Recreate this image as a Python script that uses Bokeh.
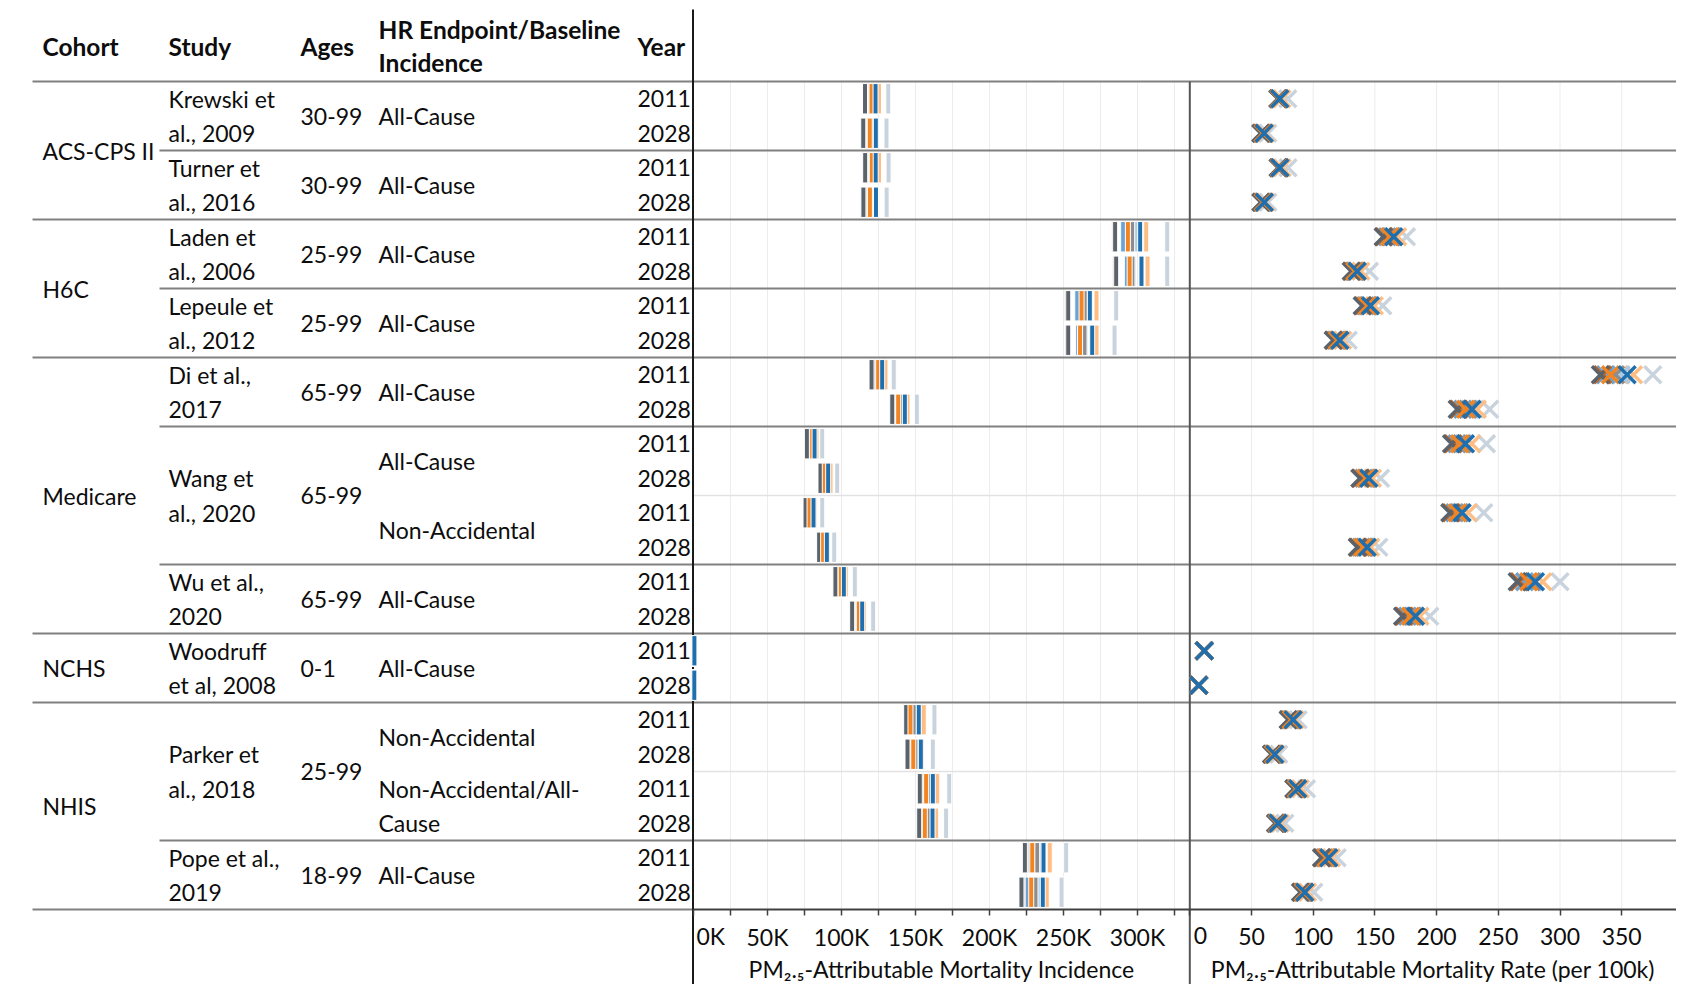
from itertools import accumulate
from bokeh.plotting import figure
from bokeh.models import Range1d, FixedTicker, ColumnDataSource, LinearAxis
from bokeh.core.properties import value
from bokeh.embed import file_html
from bokeh.resources import INLINE

# ---------------- data ----------------
headers = ["Cohort", "Study", "Ages", "HR Endpoint/Baseline", "Incidence", "Year"]
cohorts = ["ACS-CPS II", "H6C", "Medicare", "NCHS", "NHIS"]
cohort_blocks = [2, 2, 4, 1, 3]          # two-year blocks per cohort
studies = [["Krewski et", "al., 2009"], ["Turner et", "al., 2016"], ["Laden et", "al., 2006"],
           ["Lepeule et", "al., 2012"], ["Di et al.,", "2017"], ["Wang et", "al., 2020"],
           ["Wu et al.,", "2020"], ["Woodruff", "et al, 2008"], ["Parker et", "al., 2018"],
           ["Pope et al.,", "2019"]]
study_blocks = [1, 1, 1, 1, 1, 2, 1, 1, 2, 1]
ages = ["30-99", "30-99", "25-99", "25-99", "65-99", "65-99", "65-99", "0-1", "25-99", "18-99"]
endpoints = [["All-Cause"], ["All-Cause"], ["All-Cause"], ["All-Cause"], ["All-Cause"],
             ["All-Cause"], ["Non-Accidental"], ["All-Cause"], ["All-Cause"],
             ["Non-Accidental"], ["Non-Accidental/All-", "Cause"], ["All-Cause"]]
years = ["2011", "2028"]

inc_ticks = [0, 50, 100, 150, 200, 250, 300]            # thousands
inc_minor = [25, 75, 125, 175, 225, 275, 325]
rate_ticks = [0, 50, 100, 150, 200, 250, 300, 350]
inc_title = "PM\u2082.\u2085-Attributable Mortality Incidence"
rate_title = "PM\u2082.\u2085-Attributable Mortality Rate (per 100k)"

series_colors = ["#5a626b", "#c0621c", "#6aa3d5", "#f28522", "#8d8d8d",
                 "#a9cbe6", "#1f6fae", "#fdbd83", "#c9d3dd"]

# PM2.5-attributable mortality incidence (thousands), one list per series, 24 rows
inc_s1 = [115.9, 114.7, 116.0, 114.8, 284.9, 285.6, 253.2, 253.2, 120.3, 134.3, 76.6, 85.8,
          75.7, 84.9, 95.9, 107.2, 0.55, 0.50, 143.7, 144.6, 152.9, 152.5, 223.9, 221.6]
inc_s2 = [116.4, 115.3, 116.5, 115.4, 284.2, 285.0, 252.6, 252.7, 120.9, 134.8, 77.1, 86.3,
          76.2, 85.4, 96.4, 107.7, 0.56, 0.51, 144.2, 145.1, 153.4, 153.0, 224.5, 222.2]
inc_s3 = [118.2, 117.2, 118.4, 117.3, 290.3, 292.8, 259.3, 259.9, 122.5, 136.5, 78.7, 87.8,
          77.4, 86.5, 98.0, 109.9, 0.58, 0.52, 145.3, 147.0, 155.4, 154.7, 227.0, 225.7]
inc_s4 = [120.3, 119.1, 120.5, 119.2, 293.5, 294.7, 262.2, 261.2, 124.8, 138.3, 80.2, 88.7,
          78.4, 87.6, 99.5, 111.7, 0.60, 0.54, 146.6, 148.5, 157.2, 156.3, 228.9, 228.2]
inc_s5 = [121.3, 120.3, 121.4, 120.4, 296.4, 296.6, 264.4, 264.2, 125.7, 139.9, 80.7, 89.5,
          79.1, 88.3, 100.2, 112.5, 0.61, 0.55, 148.9, 150.0, 159.5, 158.6, 232.2, 231.1]
inc_s6 = [122.0, 121.3, 122.1, 121.4, 298.9, 297.3, 265.6, 264.9, 126.4, 140.9, 81.1, 90.2,
          79.7, 89.0, 100.9, 113.2, 0.62, 0.56, 150.0, 151.4, 160.5, 159.8, 233.8, 233.1]
inc_s7 = [123.0, 123.2, 123.1, 123.3, 301.8, 302.7, 267.8, 269.4, 127.5, 142.8, 81.8, 91.0,
          81.1, 90.1, 101.6, 114.0, 0.63, 0.57, 152.2, 153.6, 161.7, 161.5, 236.5, 236.0]
inc_s8 = [125.3, 124.0, 125.4, 124.1, 305.9, 306.8, 272.3, 272.3, 129.7, 144.6, 83.1, 92.6,
          81.8, 90.9, 102.9, 115.1, 0.65, 0.58, 155.6, 154.4, 164.7, 164.0, 240.7, 238.7]
inc_s9 = [131.6, 130.4, 131.8, 130.5, 320.1, 320.1, 285.6, 284.5, 135.3, 150.9, 87.0, 97.1,
          87.0, 95.1, 109.0, 121.4, 0.70, 0.62, 162.8, 161.7, 172.8, 170.7, 251.8, 248.7]

# PM2.5-attributable mortality rate (per 100k), one list per series, 24 rows
rate_s1 = [71.3, 57.5, 71.5, 57.6, 156.7, 130.8, 139.7, 116.2, 332.7, 216.7, 212.1, 137.8,
           210.7, 135.7, 265.3, 172.4, 11.6, 7.2, 79.7, 66.2, 84.3, 69.4, 106.7, 89.7]
rate_s2 = [71.6, 57.9, 71.8, 58.0, 157.5, 131.5, 140.4, 116.8, 334.5, 218.0, 213.4, 138.7,
           211.9, 136.6, 267.0, 173.6, 11.6, 7.2, 80.1, 66.5, 84.7, 69.8, 107.4, 90.2]
rate_s3 = [72.0, 58.6, 72.2, 58.7, 160.0, 132.9, 142.3, 118.5, 336.8, 221.2, 216.5, 141.0,
           214.6, 138.9, 271.3, 176.4, 11.7, 7.3, 81.4, 67.3, 85.6, 70.3, 109.2, 91.3]
rate_s4 = [72.3, 59.3, 72.5, 59.4, 162.0, 133.8, 143.8, 119.6, 340.9, 223.5, 218.6, 142.6,
           216.8, 140.4, 274.6, 178.9, 11.7, 7.3, 82.3, 67.8, 86.3, 70.8, 110.5, 92.0]
rate_s5 = [72.5, 59.7, 72.7, 59.8, 163.2, 134.5, 144.8, 120.4, 345.0, 225.3, 220.4, 143.6,
           218.3, 141.7, 276.8, 180.5, 11.8, 7.3, 82.9, 68.2, 86.8, 71.1, 111.3, 92.5]
rate_s6 = [72.7, 60.0, 72.9, 60.1, 164.2, 135.1, 145.6, 121.0, 349.5, 227.0, 221.9, 144.4,
           219.5, 142.8, 278.5, 181.7, 11.8, 7.3, 83.3, 68.6, 87.2, 71.4, 112.0, 92.9]
rate_s7 = [72.9, 60.3, 73.0, 60.4, 165.3, 135.7, 146.4, 121.6, 354.4, 228.8, 223.4, 145.1,
           220.7, 143.8, 280.1, 182.9, 11.8, 7.3, 83.8, 68.9, 87.5, 71.6, 112.6, 93.2]
rate_s8 = [74.6, 61.2, 74.8, 61.3, 168.4, 138.6, 149.5, 123.8, 359.6, 233.0, 228.5, 148.0,
           225.6, 146.6, 286.0, 186.5, 11.9, 7.4, 85.2, 69.9, 89.6, 73.3, 114.8, 95.4]
rate_s9 = [79.4, 63.2, 79.6, 63.3, 175.6, 145.6, 156.4, 128.4, 375.2, 243.0, 240.4, 154.6,
           238.2, 153.2, 300.0, 194.5, 12.0, 7.5, 87.8, 72.1, 94.6, 77.0, 119.4, 100.5]

inc_series = [inc_s1, inc_s2, inc_s3, inc_s4, inc_s5, inc_s6, inc_s7, inc_s8, inc_s9]
rate_series = [rate_s1, rate_s2, rate_s3, rate_s4, rate_s5, rate_s6, rate_s7, rate_s8, rate_s9]
draw_order = [8, 7, 5, 4, 2, 1, 0, 3, 6]

# ---------------- layout / styling ----------------
FONT = "Lato"
FS = "23px"
FS_HEAD = "24.5px"
TXT = "#0d0d0d"
SEP = "#808080"
LIGHT_SEP = "#e2e2e2"
GRID = "#ececec"
W, H = 1676, 984
ROW_PX = 34.5
Y0 = 81                      # page y of the first row's top edge
L_ZERO, L_END = 693.0, 1189.3  # page x of the incidence panel
R_ZERO = 1189.3                # page x of the rate panel zero
PX_PER_K = 74 / 50
PX_PER_RATE = 61.7 / 50
X_COH, X_STU, X_AGE, X_END, X_YR = 42, 168, 300, 378, 637


def ry(page_y):
    return (page_y - Y0) / ROW_PX


# ---------------- derived structure ----------------
N_ROWS = 2 * len(endpoints)
cb_start = [0] + list(accumulate(cohort_blocks))[:-1]
sb_start = [0] + list(accumulate(study_blocks))[:-1]
cohort_bounds = [2 * s for s in cb_start[1:]]
study_bounds = [2 * s for s in sb_start[1:] if 2 * s not in cohort_bounds]
block_bounds = [2 * b for b in range(1, len(endpoints))
                if 2 * b not in cohort_bounds and 2 * b not in study_bounds]
row_y = [i + 0.5 for i in range(N_ROWS)]
inc_end = (L_END - L_ZERO) / PX_PER_K
rate_end = (W - R_ZERO) / PX_PER_RATE

p = figure(width=W, height=H, title=None, x_range=Range1d(0, W),
           y_range=Range1d(ry(H), ry(0)), x_axis_type=None, y_axis_type=None,
           toolbar_location=None, output_backend="svg", min_border=0,
           outline_line_color=None)
p.extra_x_ranges = {
    "inc": Range1d(-L_ZERO / PX_PER_K, (W - L_ZERO) / PX_PER_K),
    "rate": Range1d(-R_ZERO / PX_PER_RATE, (W - R_ZERO) / PX_PER_RATE),
}


def put(xs, ys, texts, bold=False, size=FS, align="left", rng="default", x_offset=0):
    p.text(x=xs, y=ys, text=texts, text_font=value(FONT), text_font_size=value(size),
           text_font_style=value("bold" if bold else "normal"), x_offset=x_offset,
           text_baseline="middle", text_align=align, text_color=TXT, x_range_name=rng)


# grid lines (rows area only)
inc_grid = sorted(inc_ticks + inc_minor)[1:]
p.segment(x0=inc_grid, x1=inc_grid, y0=[0] * len(inc_grid), y1=[N_ROWS] * len(inc_grid),
          line_color=GRID, line_width=1, x_range_name="inc")
rate_grid = rate_ticks[1:]
p.segment(x0=rate_grid, x1=rate_grid, y0=[0] * len(rate_grid), y1=[N_ROWS] * len(rate_grid),
          line_color=GRID, line_width=1, x_range_name="rate")

# separators
full_y = [0] + cohort_bounds
p.segment(x0=[32] * len(full_y), x1=[W] * len(full_y), y0=full_y, y1=full_y,
          line_color=SEP, line_width=2)
p.segment(x0=[159] * len(study_bounds), x1=[W] * len(study_bounds), y0=study_bounds,
          y1=study_bounds, line_color=SEP, line_width=2)
p.segment(x0=[L_ZERO] * len(block_bounds), x1=[W] * len(block_bounds), y0=block_bounds,
          y1=block_bounds, line_color=LIGHT_SEP, line_width=1.5)
p.segment(x0=[32], x1=[L_ZERO], y0=[N_ROWS], y1=[N_ROWS], line_color=SEP, line_width=2)
p.segment(x0=[L_ZERO - 0.5], x1=[L_ZERO - 0.5], y0=[ry(9)], y1=[ry(H)],
          line_color="#1a1a1a", line_width=2)
p.segment(x0=[R_ZERO], x1=[R_ZERO], y0=[0], y1=[ry(H)], line_color="#555555", line_width=2)

# table text
put([X_COH, X_STU, X_AGE, X_YR], [ry(46)] * 4,
    [headers[0], headers[1], headers[2], headers[5]], bold=True, size=FS_HEAD)
put([X_END, X_END], [ry(29), ry(62)], [headers[3], headers[4]], bold=True, size=FS_HEAD)
put([X_COH] * len(cohorts), [2 * s + n for s, n in zip(cb_start, cohort_blocks)], cohorts)
sx, sy, st = [], [], []
for (l1, l2), s, n in zip(studies, sb_start, study_blocks):
    c = 2 * s + n
    sx += [X_STU, X_STU]
    sy += [c - 0.5, c + 0.5]
    st += [l1, l2]
put(sx, sy, st)
put([X_AGE] * len(ages), [2 * s + n for s, n in zip(sb_start, study_blocks)], ages)
ex, ey, et = [], [], []
for b, lines in enumerate(endpoints):
    c = 2 * b + 1
    offs = [0] if len(lines) == 1 else [-0.5, 0.5]
    for ln, o in zip(lines, offs):
        ex.append(X_END)
        ey.append(c + o)
        et.append(ln)
put(ex, ey, et)
put([X_YR] * N_ROWS, row_y, years * len(endpoints))

# marks
for k in draw_order:
    src = ColumnDataSource(dict(y=row_y, inc=inc_series[k], rate=rate_series[k]))
    p.rect(x="inc", y="y", width=5, width_units="screen", height=0.88,
           fill_color=series_colors[k], line_color="white", line_width=1,
           source=src, x_range_name="inc")
    p.scatter(x="rate", y="y", marker="x", size=24, line_color=series_colors[k],
              line_width=3.4, source=src, x_range_name="rate")


# axes
def add_axis(rng, end, ticks, minor, suffix, standoff):
    ax = LinearAxis(x_range_name=rng, fixed_location=N_ROWS, bounds=(0, end),
                    ticker=FixedTicker(ticks=ticks, minor_ticks=minor))
    ax.major_label_overrides = {tk: ("" if tk == 0 else f"{tk}{suffix}") for tk in ticks}
    ax.major_label_text_font = FONT
    ax.major_label_text_font_size = FS
    ax.major_label_text_color = TXT
    ax.major_label_standoff = standoff
    ax.major_tick_in = 0
    ax.major_tick_out = 6
    ax.minor_tick_in = 0
    ax.minor_tick_out = 6
    ax.major_tick_line_color = "#404040"
    ax.minor_tick_line_color = "#404040"
    ax.major_tick_line_width = 1.5
    ax.minor_tick_line_width = 1.5
    ax.axis_line_color = "#404040"
    ax.axis_line_width = 2
    p.add_layout(ax, "below")


add_axis("inc", inc_end, inc_ticks, inc_minor, "K", 7)
add_axis("rate", rate_end, rate_ticks, [], "", 12)

# zero tick labels start at the axis (as in the original)
put([0], [ry(935)], ["0K"], rng="inc", x_offset=3)
put([0], [ry(935)], ["0"], rng="rate", x_offset=4)
# axis titles, centred under each panel
put([inc_end / 2], [ry(968)], [inc_title], align="center", rng="inc")
put([rate_end / 2], [ry(968)], [rate_title], align="center", rng="rate")

open("out.html", "w").write(file_html(p, INLINE))
